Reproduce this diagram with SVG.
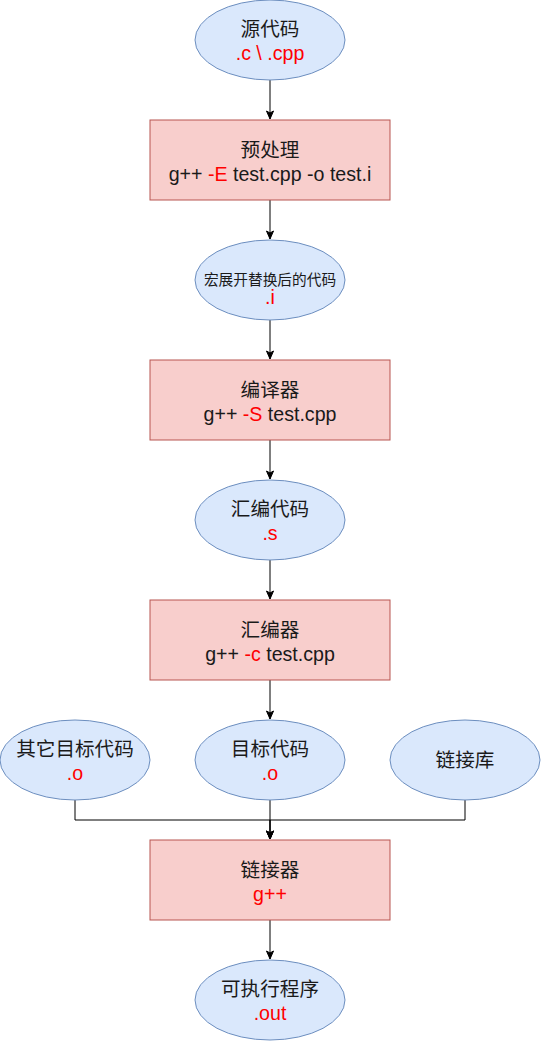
<svg xmlns="http://www.w3.org/2000/svg" width="541" height="1041" viewBox="0 0 541 1041">
<style>
.el{fill:#dae8fc;stroke:#6c8ebf;stroke-width:1}
.rc{fill:#f8cecc;stroke:#b85450;stroke-width:1}
text{font-family:"Liberation Sans","Noto Sans CJK SC",Arial,sans-serif;font-size:19.6px;fill:#1a1a1a;text-anchor:middle}
.sm{font-size:14.7px}
.r{fill:#ff0000}
.cn{fill:none;stroke:#000;stroke-width:1}
</style>
<defs>
<marker id="ar" markerUnits="userSpaceOnUse" markerWidth="10" markerHeight="10" viewBox="0 0 10 10" refX="9" refY="5" orient="auto">
<path d="M1,1.5 L9,5 L1,8.5 L3,5 Z" fill="#000" stroke="#000" stroke-width="1"/>
</marker>
</defs>
<g id="connectors">
<line class="cn" x1="270" y1="80" x2="270" y2="119" marker-end="url(#ar)"/>
<line class="cn" x1="270" y1="200" x2="270" y2="239" marker-end="url(#ar)"/>
<line class="cn" x1="270" y1="320" x2="270" y2="359" marker-end="url(#ar)"/>
<line class="cn" x1="270" y1="440" x2="270" y2="479" marker-end="url(#ar)"/>
<line class="cn" x1="270" y1="560" x2="270" y2="599" marker-end="url(#ar)"/>
<line class="cn" x1="270" y1="680" x2="270" y2="719" marker-end="url(#ar)"/>
<polyline class="cn" points="75,800 75,820 270,820 270,839" marker-end="url(#ar)"/>
<polyline class="cn" points="465,800 465,820 270,820 270,839" marker-end="url(#ar)"/>
<line class="cn" x1="270" y1="800" x2="270" y2="839" marker-end="url(#ar)"/>
<line class="cn" x1="270" y1="920" x2="270" y2="959" marker-end="url(#ar)"/>
</g>
<g id="src">
<ellipse class="el" cx="270" cy="40" rx="75" ry="40"/>
<text x="270" y="36">源代码</text>
<text x="270" y="59.5" class="r">.c \ .cpp</text>
</g>
<g id="preprocess">
<rect class="rc" x="150" y="120" width="240" height="80"/>
<text x="270" y="157">预处理</text>
<text x="270" y="180.5">g++ <tspan class="r">-E</tspan> test.cpp -o test.i</text>
</g>
<g id="macro">
<ellipse class="el" cx="270" cy="280" rx="75" ry="40"/>
<text x="270" y="285" class="sm">宏展开替换后的代码</text>
<text x="270" y="304" class="r">.i</text>
</g>
<g id="compiler">
<rect class="rc" x="150" y="360" width="240" height="80"/>
<text x="270" y="397">编译器</text>
<text x="270" y="420.5">g++ <tspan class="r">-S</tspan> test.cpp</text>
</g>
<g id="asm">
<ellipse class="el" cx="270" cy="520" rx="75" ry="40"/>
<text x="270" y="516">汇编代码</text>
<text x="270" y="539.5" class="r">.s</text>
</g>
<g id="assembler">
<rect class="rc" x="150" y="600" width="240" height="80"/>
<text x="270" y="637">汇编器</text>
<text x="270" y="660.5">g++ <tspan class="r">-c</tspan> test.cpp</text>
</g>
<g id="other-obj">
<ellipse class="el" cx="75" cy="760" rx="75" ry="40"/>
<text x="75" y="756">其它目标代码</text>
<text x="75" y="779.5" class="r">.o</text>
</g>
<g id="obj">
<ellipse class="el" cx="270" cy="760" rx="75" ry="40"/>
<text x="270" y="756">目标代码</text>
<text x="270" y="779.5" class="r">.o</text>
</g>
<g id="lib">
<ellipse class="el" cx="465" cy="760" rx="75" ry="40"/>
<text x="465" y="767">链接库</text>
</g>
<g id="linker">
<rect class="rc" x="150" y="840" width="240" height="80"/>
<text x="270" y="877">链接器</text>
<text x="270" y="900.5" class="r">g++</text>
</g>
<g id="exe">
<ellipse class="el" cx="270" cy="1000" rx="75" ry="40"/>
<text x="270" y="996">可执行程序</text>
<text x="270" y="1019.5" class="r">.out</text>
</g>
</svg>
